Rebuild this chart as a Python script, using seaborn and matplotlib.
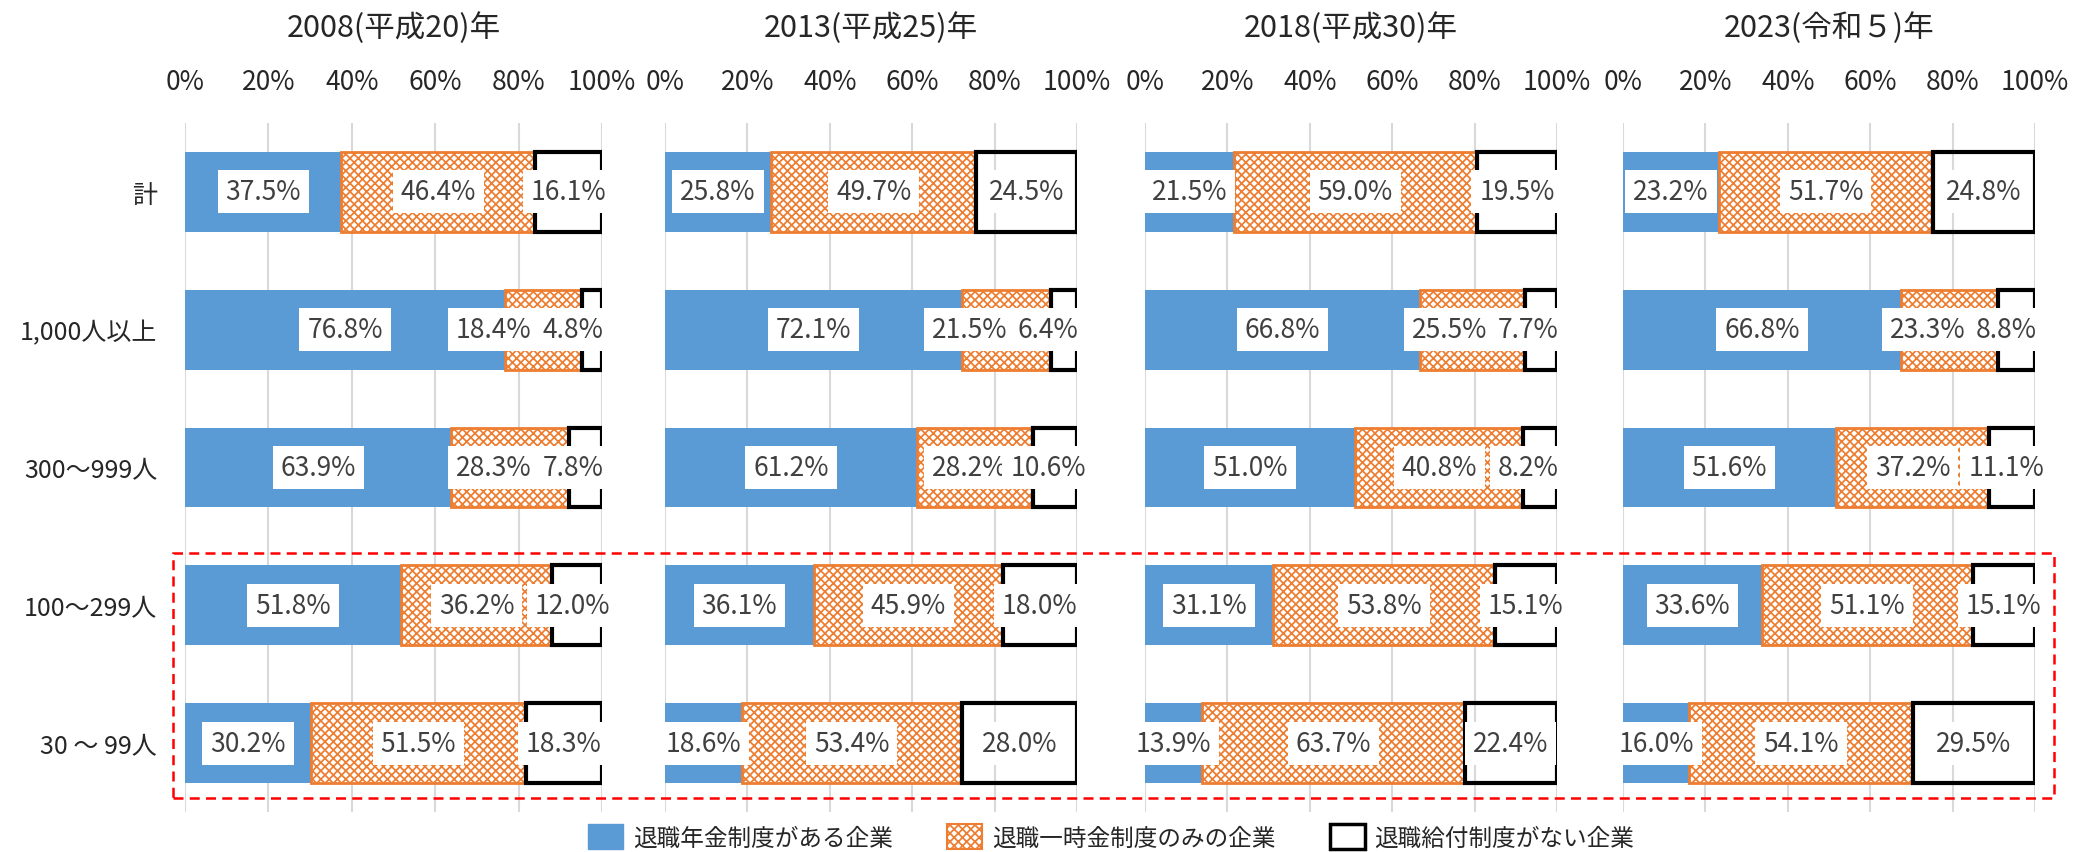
import numpy as np
import seaborn as sns
import matplotlib.pyplot as plt
from matplotlib.patches import Patch, Rectangle

sns.set_style("white")
plt.rcParams['font.family'] = ['Noto Sans CJK JP', 'DejaVu Sans']
plt.rcParams['hatch.linewidth'] = 1.25

years = ["2008(平成20)年", "2013(平成25)年", "2018(平成30)年", "2023(令和５)年"]
sizes = ["計", "1,000人以上", "300～999人", "100～299人", "30 ～ 99人"]
series = ["退職年金制度がある企業", "退職一時金制度のみの企業", "退職給付制度がない企業"]

# share of companies (%) per year, rows follow `sizes`
pension = [
    [37.5, 76.8, 63.9, 51.8, 30.2],
    [25.8, 72.1, 61.2, 36.1, 18.6],
    [21.5, 66.8, 51.0, 31.1, 13.9],
    [23.2, 66.8, 51.6, 33.6, 16.0],
]
lump_sum = [
    [46.4, 18.4, 28.3, 36.2, 51.5],
    [49.7, 21.5, 28.2, 45.9, 53.4],
    [59.0, 25.5, 40.8, 53.8, 63.7],
    [51.7, 23.3, 37.2, 51.1, 54.1],
]
no_plan = [
    [16.1, 4.8, 7.8, 12.0, 18.3],
    [24.5, 6.4, 10.6, 18.0, 28.0],
    [19.5, 7.7, 8.2, 15.1, 22.4],
    [24.8, 8.8, 11.1, 15.1, 29.5],
]

BLUE = "#5B9BD5"
ORANGE = "#ED7D31"
HATCH = "xxxx"
TXT = "#404040"

W, H = 2073, 853
fig = plt.figure(figsize=(W / 100, H / 100), dpi=100)

lefts = [185, 665, 1145, 1623]
widths = [417, 412, 412, 412]
top_px, bot_px = 124, 813

box = dict(boxstyle="square,pad=0.3", fc="white", ec="none")

for i in range(4):
    ax = fig.add_axes([lefts[i] / W, 1 - bot_px / H, widths[i] / W, (bot_px - top_px) / H])
    p = np.array(pension[i])
    l = np.array(lump_sum[i])
    n = np.array(no_plan[i])
    tot = p + l + n
    # 100% stacked, like the source chart
    pn, ln, nn = p / tot * 100, l / tot * 100, n / tot * 100

    sns.barplot(x=pn, y=sizes, orient="y", color=BLUE, saturation=1, width=0.58,
                linewidth=0, errorbar=None, ax=ax)
    sns.barplot(x=ln, y=sizes, orient="y", color="white", saturation=1, left=pn,
                facecolor="white", edgecolor=ORANGE, hatch=HATCH, linewidth=2,
                width=0.58, errorbar=None, ax=ax)
    sns.barplot(x=nn, y=sizes, orient="y", color="white", saturation=1, left=pn + ln,
                facecolor="none", edgecolor="black", linewidth=3, width=0.58,
                errorbar=None, ax=ax)

    # label positions: centred, nudged left when the last segments are narrow
    c1 = pn / 2
    c3 = np.minimum(pn + ln + nn / 2, 93)
    c2 = np.minimum(pn + ln / 2, c3 - 19)
    for j in range(len(sizes)):
        for cx, v in ((c1[j], p[j]), (c2[j], l[j]), (c3[j], n[j])):
            ax.text(cx, j, f"{v:.1f}%", ha="center", va="center",
                    fontsize=19, color=TXT, bbox=box, zorder=5)

    ax.set_xlim(0, 100)
    ax.set_ylim(4.5, -0.5)
    ax.xaxis.tick_top()
    ax.set_xticks(range(0, 101, 20))
    ax.set_xticklabels([f"{t}%" for t in range(0, 101, 20)], fontsize=19)
    ax.tick_params(axis="x", length=0, pad=20)
    ax.grid(axis="x", color="#D9D9D9", linewidth=1.5)
    ax.set_axisbelow(True)
    ax.set_xlabel("")
    ax.set_ylabel("")
    for s in ax.spines.values():
        s.set_visible(False)
    if i == 0:
        ax.tick_params(axis="y", length=0, pad=20, labelsize=18)
    else:
        ax.tick_params(axis="y", length=0, labelleft=False)
    ax.text(0.5, 1 + (top_px - 28) / (bot_px - top_px), years[i],
            transform=ax.transAxes, ha="center", va="center", fontsize=22)

# red dashed frame around the smaller company sizes
fig.add_artist(Rectangle((173 / W, 1 - 799 / H), (2054 - 173) / W, (799 - 554) / H,
                         transform=fig.transFigure, fill=False, edgecolor="#FF0000",
                         linewidth=1.8, linestyle=(0, (4, 2.5)), zorder=10))

handles = [
    Patch(facecolor=BLUE, edgecolor=BLUE),
    Patch(facecolor="white", edgecolor=ORANGE, hatch=HATCH, linewidth=1.5),
    Patch(facecolor="white", edgecolor="black", linewidth=2.5),
]
fig.legend(handles, series, loc="center", bbox_to_anchor=(0.536, 0.018),
           ncol=3, frameon=False, fontsize=17, handlelength=1.5, handleheight=1.3,
           columnspacing=2.3, handletextpad=0.4, borderpad=0)

fig.savefig("out.png", dpi=100)
